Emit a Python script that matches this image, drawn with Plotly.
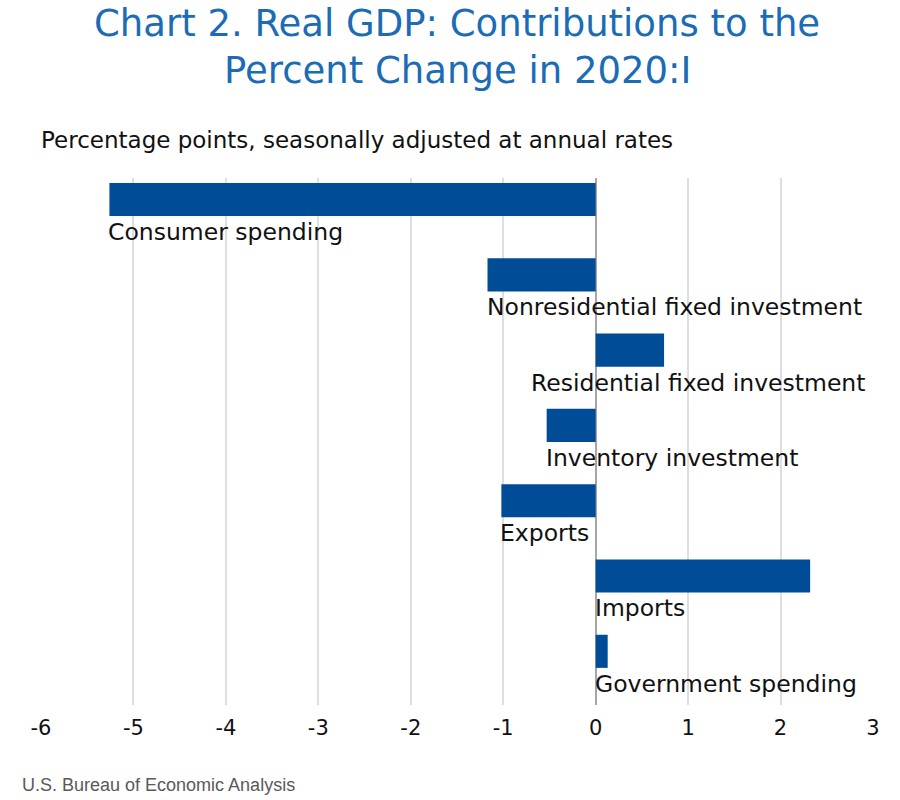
import plotly.graph_objects as go

categories = ["Consumer spending", "Nonresidential fixed investment", "Residential fixed investment",
              "Inventory investment", "Exports", "Imports", "Government spending"]
values = [-5.26, -1.17, 0.74, -0.53, -1.02, 2.32, 0.13]
tick_vals = [-6, -5, -4, -3, -2, -1, 0, 1, 2, 3]
tick_text = ["-6", "-5", "-4", "-3", "-2", "-1", "0", "1", "2", "3"]
label_align_right = [False, False, True, False, False, False, False]
title_lines = ["Chart 2. Real GDP: Contributions to the", "Percent Change in 2020:I"]

BAR = "#004C97"
LABEL_FONT = dict(family="DejaVu Sans", size=23.5, color="#111")
idx = list(range(len(categories)))

fig = go.Figure()
fig.add_trace(go.Bar(
    x=values, y=idx, orientation="h", width=0.44,
    marker=dict(color=BAR, line=dict(width=0)),
    hoverinfo="x+text", text=categories, textposition="none",
))

for i, (c, v, r) in enumerate(zip(categories, values, label_align_right)):
    if r:
        fig.add_annotation(x=tick_vals[-1], y=i + 0.43, text=c, showarrow=False,
                           xanchor="right", yanchor="middle", xshift=-6, font=LABEL_FONT)
    else:
        fig.add_annotation(x=min(0, v), y=i + 0.43, text=c, showarrow=False,
                           xanchor="left", yanchor="middle", xshift=-3, font=LABEL_FONT)

for k, line in enumerate(title_lines):
    fig.add_annotation(xref="paper", yref="paper", x=0.5, y=1.0, yshift=155 - 47 * k,
                       text=line, showarrow=False, xanchor="center", yanchor="middle",
                       font=dict(family="DejaVu Sans", size=37, color="#1B6CB5"))
fig.add_annotation(xref="paper", yref="paper", x=-0.002, y=1.0, yshift=38,
                   text="Percentage points, seasonally adjusted at annual rates",
                   showarrow=False, xanchor="left", yanchor="middle",
                   font=dict(family="DejaVu Sans", size=23, color="#111"))
fig.add_annotation(xref="paper", yref="paper", x=-0.025, y=0, yshift=-80,
                   text="U.S. Bureau of Economic Analysis", showarrow=False,
                   xanchor="left", yanchor="middle",
                   font=dict(family="Liberation Sans", size=18, color="#595959"))

fig.update_layout(
    width=900, height=800,
    paper_bgcolor="white", plot_bgcolor="white",
    margin=dict(l=41, r=27, t=178, b=95),
    showlegend=False,
    xaxis=dict(range=[-6, 3], tickvals=tick_vals, ticktext=tick_text,
               showgrid=True, gridcolor="#DEDEDE", gridwidth=2,
               zeroline=True, zerolinecolor="#A6A6A6", zerolinewidth=2,
               tickfont=dict(family="DejaVu Sans", size=21, color="#111"),
               ticklabelstandoff=8, showline=False, fixedrange=True),
    yaxis=dict(range=[6.713, -0.286], showticklabels=False, showgrid=False, zeroline=False,
               showline=False, fixedrange=True),
)

fig.write_html("out.html", config={"displayModeBar": False},
               post_script="document.body.style.margin='0px';")
